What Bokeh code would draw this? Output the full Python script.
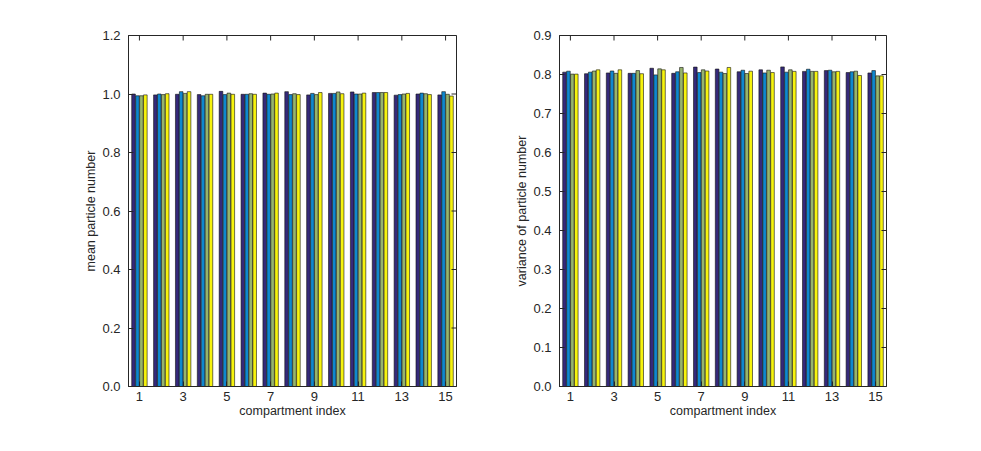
import math
from bokeh.plotting import figure
from bokeh.layouts import row
from bokeh.models import ColumnDataSource, FixedTicker, PrintfTickFormatter, Range1d
from bokeh.transform import dodge
from bokeh.embed import file_html
from bokeh.resources import INLINE

compartments = list(range(1, 16))
x_ticks = [1, 3, 5, 7, 9, 11, 13, 15]

mean_s1 = [1.000, 0.997, 0.999, 0.998, 1.009, 0.999, 1.003, 1.008, 0.997, 1.002, 1.007, 1.005, 0.996, 1.000, 0.997]
mean_s2 = [0.994, 1.000, 1.008, 0.994, 0.998, 0.999, 0.999, 0.998, 1.002, 1.002, 1.000, 1.005, 0.998, 1.003, 1.008]
mean_s3 = [0.994, 0.998, 1.002, 0.999, 1.003, 1.001, 1.000, 1.001, 0.998, 1.007, 1.000, 1.005, 1.000, 1.001, 0.999]
mean_s4 = [0.997, 1.001, 1.008, 0.999, 0.999, 0.999, 1.003, 0.998, 1.005, 1.001, 1.003, 1.005, 1.002, 0.998, 0.993]

var_s1 = [0.806, 0.802, 0.804, 0.803, 0.816, 0.803, 0.819, 0.814, 0.807, 0.812, 0.8195, 0.808, 0.810, 0.805, 0.804]
var_s2 = [0.8085, 0.806, 0.809, 0.803, 0.799, 0.807, 0.805, 0.806, 0.811, 0.804, 0.806, 0.8135, 0.811, 0.807, 0.810]
var_s3 = [0.801, 0.809, 0.803, 0.810, 0.8145, 0.818, 0.812, 0.8025, 0.8025, 0.811, 0.812, 0.808, 0.807, 0.8085, 0.7965]
var_s4 = [0.801, 0.812, 0.812, 0.802, 0.812, 0.804, 0.809, 0.818, 0.8085, 0.805, 0.808, 0.808, 0.808, 0.7975, 0.7965]

y1_ticks = [0.0, 0.2, 0.4, 0.6, 0.8, 1.0, 1.2]
y2_ticks = [0.0, 0.1, 0.2, 0.3, 0.4, 0.5, 0.6, 0.7, 0.8, 0.9]

colors = ["#35297a", "#0f88cf", "#97b46c", "#f6f30e"]
offsets = [-0.27, -0.09, 0.09, 0.27]
AX = "#262626"
FONT = "Liberation Sans"
XMIN, XMAX = 0.5, 15.5


def make(series, yticks, ymax, ylabel, width, bl, br):
    src = ColumnDataSource(dict(x=compartments, s0=series[0], s1=series[1], s2=series[2], s3=series[3]))
    p = figure(width=width, height=440, output_backend="svg", toolbar_location=None,
               x_range=Range1d(XMIN, XMAX), y_range=Range1d(0, ymax),
               min_border_left=bl, min_border_right=br, min_border_top=35, min_border_bottom=54)
    for i in range(4):
        p.vbar(x=dodge("x", offsets[i], range=p.x_range), top="s%d" % i, width=0.165, bottom=0,
               source=src, fill_color=colors[i], line_color="#111111", line_width=0.6)
    p.xgrid.visible = False
    p.ygrid.visible = False
    p.outline_line_color = AX
    p.outline_line_width = 1
    p.background_fill_color = "white"
    p.border_fill_color = "white"
    for ax in (p.xaxis[0], p.yaxis[0]):
        ax.axis_line_color = AX
        ax.major_tick_line_color = AX
        ax.major_tick_in = 5
        ax.major_tick_out = 0
        ax.minor_tick_line_color = None
        ax.major_label_text_font = FONT
        ax.major_label_text_font_size = "13px"
        ax.major_label_text_color = AX
        ax.axis_label_text_font = FONT
        ax.axis_label_text_font_size = "12.5px"
        ax.axis_label_text_font_style = "normal"
        ax.axis_label_text_color = AX
    p.xaxis.ticker = FixedTicker(ticks=x_ticks)
    p.yaxis.ticker = FixedTicker(ticks=yticks)
    p.yaxis.formatter = PrintfTickFormatter(format="%.1f")
    p.xaxis.axis_label = "compartment index"
    p.yaxis.axis_label = ylabel
    p.xaxis.major_label_standoff = 5
    p.yaxis.major_label_standoff = 8
    p.xaxis.axis_label_standoff = 0
    p.yaxis.axis_label_standoff = 1
    # mirrored inward ticks on top and right edges (half of each dash is clipped by the frame)
    p.scatter(x=x_ticks, y=[ymax] * len(x_ticks), marker="dash", size=10, angle=math.pi / 2,
              line_color=AX, line_width=1)
    p.scatter(x=[XMAX] * len(yticks), y=yticks, marker="dash", size=10,
              line_color=AX, line_width=1)
    return p


p1 = make([mean_s1, mean_s2, mean_s3, mean_s4], y1_ticks, 1.2, "mean particle number", 498, 128, 42)
p2 = make([var_s1, var_s2, var_s3, var_s4], y2_ticks, 0.9, "variance of particle number", 470, 61, 82)

layout = row(p1, p2)
open("out.html", "w").write(file_html(layout, INLINE))
